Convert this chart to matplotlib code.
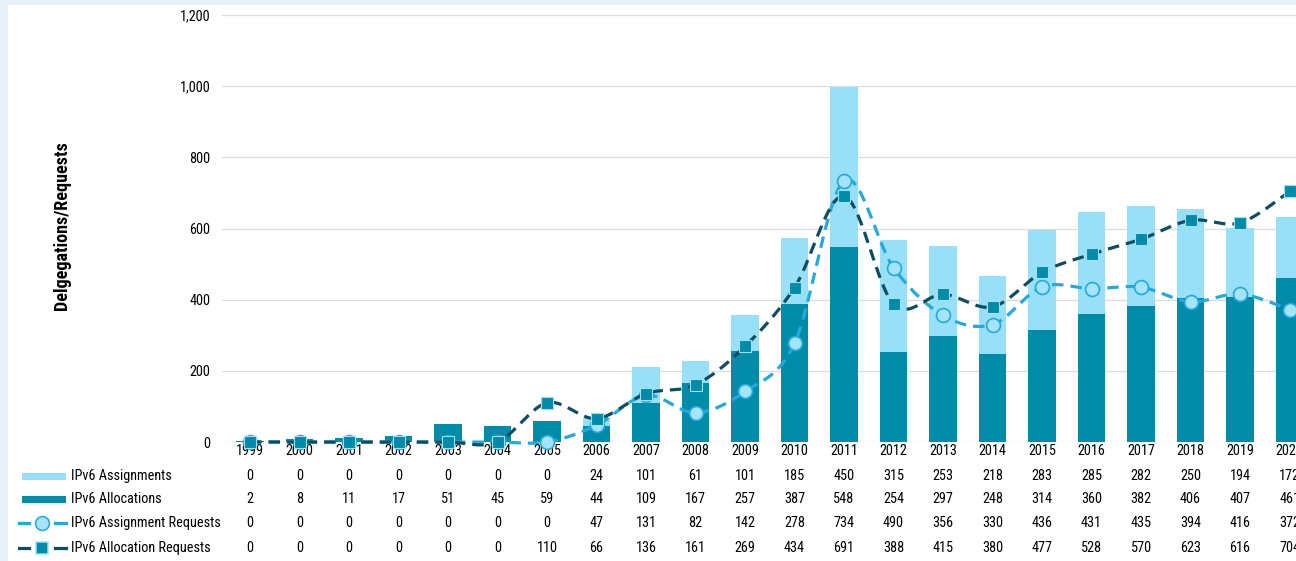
import numpy as np
import matplotlib.pyplot as plt
from matplotlib import font_manager
from matplotlib.lines import Line2D
from matplotlib.patches import Rectangle
import matplotlib.transforms as mtransforms

# pick a narrow face if one is installed
fonts = font_manager.fontManager.ttflist
names = {f.name for f in fonts}
fsize = 10.3
if 'Liberation Sans Narrow' in names:
    plt.rcParams['font.family'] = ['Liberation Sans Narrow', 'DejaVu Sans']
elif 'Roboto Condensed' in names:
    plt.rcParams['font.family'] = ['Roboto Condensed', 'DejaVu Sans']
elif any(f.name == 'DejaVu Sans' and f.stretch == 'condensed' for f in fonts):
    plt.rcParams['font.family'] = ['DejaVu Sans']
    plt.rcParams['font.stretch'] = 'condensed'
    fsize = 9.5
else:
    plt.rcParams['font.family'] = ['Roboto', 'DejaVu Sans']
    fsize = 9

years = ['1999', '2000', '2001', '2002', '2003', '2004', '2005', '2006', '2007', '2008', '2009',
         '2010', '2011', '2012', '2013', '2014', '2015', '2016', '2017', '2018', '2019', '2020']
assignments = [0, 0, 0, 0, 0, 0, 0, 24, 101, 61, 101, 185, 450, 315, 253, 218, 283, 285, 282, 250, 194, 172]
allocations = [2, 8, 11, 17, 51, 45, 59, 44, 109, 167, 257, 387, 548, 254, 297, 248, 314, 360, 382, 406, 407, 461]
assign_requests = [0, 0, 0, 0, 0, 0, 0, 47, 131, 82, 142, 278, 734, 490, 356, 330, 436, 431, 435, 394, 416, 372]
alloc_requests = [0, 0, 0, 0, 0, 0, 110, 66, 136, 161, 269, 434, 691, 388, 415, 380, 477, 528, 570, 623, 616, 704]

c_assign = '#97E0F7'
c_alloc = '#008BA8'
c_assign_req = '#22A9DE'
c_alloc_req = '#0C4D61'


def smooth(x, y, n=30):
    # Catmull-Rom style curve through every point (like a smoothed line in a spreadsheet)
    x = np.asarray(x, float)
    y = np.asarray(y, float)
    px = np.concatenate([[x[0]], x, [x[-1]]])
    py = np.concatenate([[y[0]], y, [y[-1]]])
    xs, ys = [], []
    t = np.linspace(0, 1, n)
    for i in range(1, len(px) - 2):
        p0 = np.array([px[i], py[i]])
        p3 = np.array([px[i + 1], py[i + 1]])
        c1 = p0 + (np.array([px[i + 1], py[i + 1]]) - np.array([px[i - 1], py[i - 1]])) / 6
        c2 = p3 - (np.array([px[i + 2], py[i + 2]]) - p0) / 6
        b = ((1 - t) ** 3)[:, None] * p0 + (3 * (1 - t) ** 2 * t)[:, None] * c1 \
            + (3 * (1 - t) * t ** 2)[:, None] * c2 + (t ** 3)[:, None] * p3
        xs.append(b[:, 0])
        ys.append(b[:, 1])
    return np.concatenate(xs), np.concatenate(ys)


W, H = 1296, 561
fig = plt.figure(figsize=(W / 100, H / 100), dpi=100, facecolor='#E8F0F7')
fig.add_artist(Rectangle((8 / W, 0), 1, 1 - 5 / H, transform=fig.transFigure,
                         facecolor='white', edgecolor='none', zorder=0))

ax = fig.add_axes([222 / W, 1 - 442 / H, 1 - 222 / W, (442 - 15) / H])
ax.set_facecolor('none')
x = np.arange(len(years))

ax.bar(x, allocations, width=0.55, color=c_alloc, zorder=2)
ax.bar(x, assignments, width=0.55, bottom=allocations, color=c_assign, zorder=2)

sx, sy = smooth(x, assign_requests)
ax.plot(sx, sy, color=c_assign_req, lw=2.3, dashes=(3.6, 2.2), zorder=3, clip_on=False)
ax.plot(x, assign_requests, 'o', ms=10, mfc='#A4E3F8', mec=c_assign_req, mew=1.2,
        zorder=4, clip_on=False)

sx, sy = smooth(x, alloc_requests)
ax.plot(sx, sy, color=c_alloc_req, lw=2.3, dashes=(3.6, 2.2), zorder=5, clip_on=False)
ax.plot(x, alloc_requests, 's', ms=9, mfc=c_alloc, mec='#9FE0F5', mew=0.8,
        zorder=6, clip_on=False)

ax.set_xlim(-0.566, 21.13)
ax.set_ylim(0, 1200)
ax.set_yticks(range(0, 1201, 200))
ax.set_yticklabels([f'{v:,}' for v in range(0, 1201, 200)], fontsize=fsize)
ax.tick_params(axis='y', length=0, pad=8.5)
ax.set_xticks([])
ax.grid(axis='y', color='#DCDCDC', lw=0.9, zorder=0)
for s in ax.spines.values():
    s.set_visible(False)

fig.text(62 / W, 1 - 226 / H, 'Delgegations/Requests', rotation=90, fontsize=fsize + 2.8,
         fontweight='bold', ha='center', va='center')

# year labels and data table under the axis
trans = mtransforms.blended_transform_factory(ax.transData, fig.transFigure)
for i, yr in enumerate(years):
    ax.text(i, 1 - 451 / H, yr, transform=trans, ha='center', va='center', fontsize=fsize,
            clip_on=False)

rows = [assignments, allocations, assign_requests, alloc_requests]
labels = ['IPv6 Assignments', 'IPv6 Allocations', 'IPv6 Assignment Requests',
          'IPv6 Allocation Requests']
row_y = [476, 499, 523, 548]
for vals, lab, py in zip(rows, labels, row_y):
    yf = 1 - py / H
    for i, v in enumerate(vals):
        ax.text(i, yf, str(v), transform=trans, ha='center', va='center', fontsize=fsize,
                clip_on=False)
    fig.text(71 / W, yf, lab, ha='left', va='center', fontsize=fsize)

# legend keys
y0 = 1 - row_y[0] / H
fig.add_artist(Rectangle((22 / W, y0 - 3.5 / H), 44 / W, 7 / H, transform=fig.transFigure,
                         facecolor=c_assign, edgecolor='none'))
y1 = 1 - row_y[1] / H
fig.add_artist(Rectangle((22 / W, y1 - 3.5 / H), 44 / W, 7 / H, transform=fig.transFigure,
                         facecolor=c_alloc, edgecolor='none'))
for py, col, mk, mfc, mec, ms in [(row_y[2], c_assign_req, 'o', '#A4E3F8', c_assign_req, 10),
                                  (row_y[3], c_alloc_req, 's', c_alloc, '#9FE0F5', 9)]:
    yf = 1 - py / H
    for xa, xb in [(19, 29), (55, 66)]:
        fig.add_artist(Line2D([xa / W, xb / W], [yf, yf], color=col, lw=2.3,
                              transform=fig.transFigure))
    fig.add_artist(Line2D([42 / W], [yf], marker=mk, ms=ms, mfc=mfc, mec=mec, mew=1.1,
                          transform=fig.transFigure))

fig.savefig('out.png', dpi=100)
